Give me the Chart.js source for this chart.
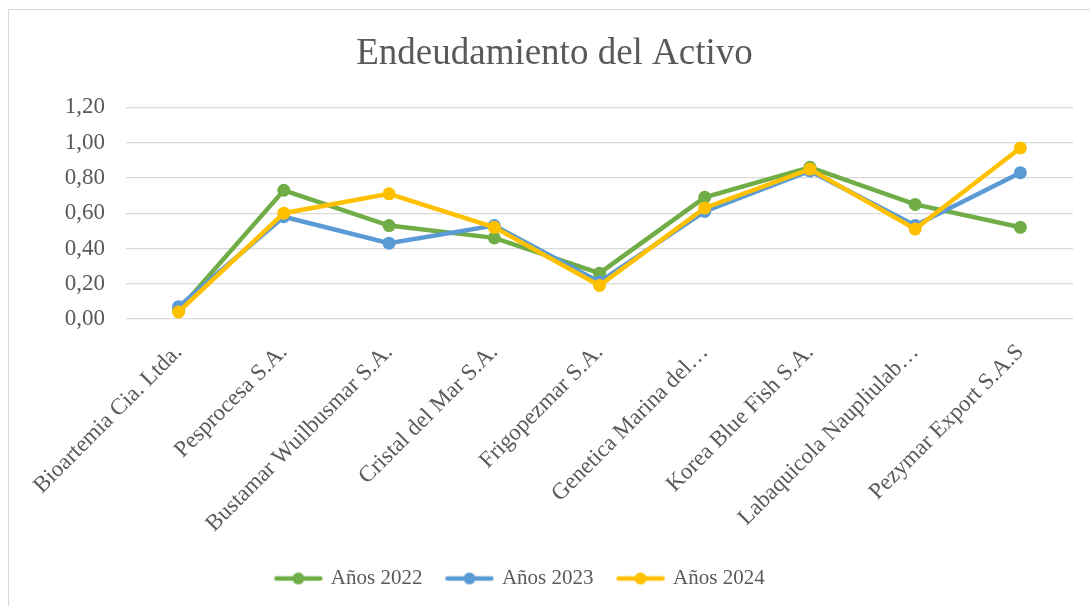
<!DOCTYPE html>
<html>
<head>
<meta charset="utf-8">
<script src="https://cdn.jsdelivr.net/npm/chart.js@4/dist/chart.umd.min.js"></script>
<style>
    html, body { margin: 0; padding: 0; background: #fff; overflow: hidden; }
    #frame {
        position: absolute; left: 8px; top: 9px;
        width: 1120px; height: 640px;
        border: 1px solid #d9d9d9;
    }
    #wrap { position: absolute; left: 0; top: 0; width: 1090px; height: 606px; }
</style>
</head>
<body>
<div id="frame"></div>
<div id="wrap"><canvas id="chart"></canvas></div>
<script>
// datos del gráfico
const categories = [
    'Bioartemia Cia. Ltda.',
    'Pesprocesa S.A.',
    'Bustamar Wuilbusmar S.A.',
    'Cristal del Mar S.A.',
    'Frigopezmar S.A.',
    'Genetica Marina del…',
    'Korea Blue Fish S.A.',
    'Labaquicola Naupliulab…',
    'Pezymar Export S.A.S'
];
const seriesNames = ['Años 2022', 'Años 2023', 'Años 2024'];
const values2022 = [0.05, 0.73, 0.53, 0.46, 0.26, 0.69, 0.86, 0.65, 0.52];
const values2023 = [0.07, 0.58, 0.43, 0.53, 0.21, 0.61, 0.84, 0.53, 0.83];
const values2024 = [0.04, 0.60, 0.71, 0.52, 0.19, 0.63, 0.85, 0.51, 0.97];
const yTicks = [0, 0.2, 0.4, 0.6, 0.8, 1.0, 1.2];

const COLORS = ['#70ad47', '#5b9bd5', '#ffc000'];
const FONT = '"Liberation Serif", "Times New Roman", serif';
const TEXT = '#595959';

// icono de leyenda: línea con marcador
function legendIcon(color) {
    const c = document.createElement('canvas');
    c.width = 50;
    c.height = 14;
    const g = c.getContext('2d');
    g.strokeStyle = color;
    g.lineWidth = 4.5;
    g.lineCap = 'round';
    g.beginPath();
    g.moveTo(3, 7);
    g.lineTo(47, 7);
    g.stroke();
    g.fillStyle = color;
    g.beginPath();
    g.arc(25, 7, 6, 0, Math.PI * 2);
    g.fill();
    return c;
}

// en el original el título y la leyenda no están centrados sobre el mismo eje
const shiftBlocks = {
    id: 'shiftBlocks',
    afterLayout(chart) {
        if (chart.titleBlock) {
            chart.titleBlock.left += 18;
            chart.titleBlock.right += 18;
        }
        if (chart.legend) {
            chart.legend.left -= 16;
            chart.legend.right -= 16;
        }
    }
};

const allValues = [values2022, values2023, values2024];
const datasets = allValues.map((vals, i) => ({
    label: seriesNames[i],
    data: vals,
    borderColor: COLORS[i],
    backgroundColor: COLORS[i],
    pointBackgroundColor: COLORS[i],
    pointBorderColor: COLORS[i],
    borderWidth: 4.5,
    pointRadius: 6.5,
    pointBorderWidth: 0,
    pointStyle: 'circle',
    tension: 0,
    fill: false,
    order: 2 - i
}));

new Chart(document.getElementById('chart'), {
    type: 'line',
    data: { labels: categories, datasets: datasets },
    plugins: [shiftBlocks],
    options: {
        responsive: true,
        maintainAspectRatio: false,
        animation: false,
        layout: { padding: { left: 0, right: 17, top: 0, bottom: 7 } },
        plugins: {
            title: {
                display: true,
                text: 'Endeudamiento del Activo',
                color: TEXT,
                font: { family: FONT, size: 37, weight: 'normal' },
                padding: { top: 32, bottom: 31 }
            },
            legend: {
                position: 'bottom',
                labels: {
                    color: TEXT,
                    font: { family: FONT, size: 21 },
                    usePointStyle: true,
                    pointStyleWidth: 44,
                    padding: 25,
                    sort: (a, b) => a.datasetIndex - b.datasetIndex,
                    generateLabels: chart => chart.data.datasets.map((ds, i) => ({
                        text: ds.label,
                        fontColor: TEXT,
                        pointStyle: legendIcon(COLORS[i]),
                        datasetIndex: i,
                        hidden: false,
                        lineWidth: 0,
                        strokeStyle: COLORS[i],
                        fillStyle: COLORS[i]
                    }))
                }
            },
            tooltip: { enabled: false }
        },
        scales: {
            x: {
                offset: true,
                grid: { display: false },
                border: { display: false },
                ticks: {
                    color: TEXT,
                    font: { family: FONT, size: 23 },
                    minRotation: 45,
                    maxRotation: 45,
                    autoSkip: false,
                    padding: 12
                },
                afterFit: scale => { scale.height = 224; }
            },
            y: {
                min: 0,
                max: 1.2,
                afterBuildTicks: scale => { scale.ticks = yTicks.map(v => ({ value: v })); },
                grid: { color: '#d9d9d9', lineWidth: 1.3, drawTicks: false },
                border: { display: false },
                ticks: {
                    color: TEXT,
                    font: { family: FONT, size: 23 },
                    padding: 21,
                    callback: value => value.toFixed(2).replace('.', ',')
                },
                afterFit: scale => { scale.width = 126; }
            }
        }
    }
});
</script>
</body>
</html>
